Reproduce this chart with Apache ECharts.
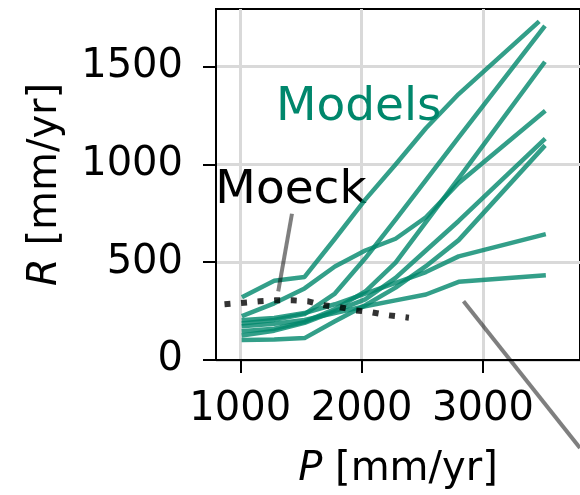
<!DOCTYPE html>
<html><head><meta charset="utf-8">
<script src="https://cdn.jsdelivr.net/npm/echarts@6/dist/echarts.min.js"></script>
<style>html,body{margin:0;padding:0;background:#fff}#c{width:580px;height:495px}</style>
</head><body><div id="c"></div>
<script>
// precipitation grid of model curves [mm/yr]
const precipGrid = [1030, 1280, 1530, 1780, 2030, 2280, 2530, 2800, 3500];
const precipGridTop = [1030, 1280, 1530, 1780, 2030, 2280, 2530, 2800, 3450];
// model recharge curves [mm/yr]
const model1 = [326, 405, 425, 620, 820, 1000, 1185, 1360, 1724];
const model2 = [188, 205, 235, 340, 520, 718, 920, 1139, 1700];
const model3 = [148, 160, 195, 260, 350, 498, 705, 929, 1516];
const model4 = [229, 290, 366, 478, 560, 620, 730, 905, 1267];
const model5 = [127, 150, 190, 250, 310, 420, 560, 711, 1124];
const model6 = [102, 105, 112, 198, 280, 370, 480, 613, 1089];
const model7 = [204, 215, 240, 285, 340, 395, 450, 530, 641];
const model8 = [173, 185, 205, 240, 275, 305, 335, 400, 432];
// Moeck curve
const moeckP = [870, 1160, 1290, 1430, 1560, 1690, 1820, 1950, 2085, 2215, 2390];
const moeckR = [285, 300, 305, 305, 300, 280, 270, 254, 244, 229, 216];
// annotation pointers
const moeckPointerP = [1426, 1313];
const moeckPointerR = [748, 351];
const modelsPointerP = [2840, 3800];
const modelsPointerR = [300, -450];
// annotation labels
const moeckLabel = {text: 'Moeck', p: 1418, r: 867};
const modelsLabel = {text: 'Models', p: 1976, r: 1289};
// ticks
const xTicks = [1000, 2000, 3000];
const yTicks = [0, 500, 1000, 1500];

const FONT = 'DejaVu Sans';
const teal = 'rgba(0,135,108,0.8)';
const zip = (xs, ys) => xs.map((x, i) => [x, ys[i]]);

const models = [model1, model2, model3, model4, model5, model6, model7, model8];
const series = models.map((m, i) => ({
  type: 'line', data: zip(i === 0 ? precipGridTop : precipGrid, m),
  showSymbol: false, symbol: 'none', silent: true,
  lineStyle: {color: teal, width: 4.5, cap: 'square', join: 'round', opacity: 1}
}));
series.push({
  type: 'line', data: zip(moeckPointerP, moeckPointerR), symbol: 'none', clip: false, silent: true,
  lineStyle: {color: 'rgba(0,0,0,0.5)', width: 4, cap: 'butt'}
});
series.push({
  type: 'line', data: zip(modelsPointerP, modelsPointerR), symbol: 'none', clip: false, silent: true,
  lineStyle: {color: 'rgba(0,0,0,0.5)', width: 4, cap: 'butt'}
});
series.push({
  type: 'line', data: zip(moeckP, moeckR), symbol: 'none', silent: true,
  lineStyle: {color: 'rgba(0,0,0,0.8)', width: 6, type: [6, 10.6], cap: 'butt'}
});
series.push({
  type: 'scatter', symbolSize: 0, silent: true, itemStyle: {opacity: 1},
  data: [[moeckLabel.p, moeckLabel.r, moeckLabel.text]],
  label: {show: true, position: 'inside', formatter: p => p.data[2], opacity: 1,
    fontFamily: FONT, fontSize: 47, color: '#000'}
});
series.push({
  type: 'scatter', symbolSize: 0, silent: true, itemStyle: {opacity: 1},
  data: [[modelsLabel.p, modelsLabel.r, modelsLabel.text]],
  label: {show: true, position: 'inside', formatter: p => p.data[2], opacity: 1,
    fontFamily: FONT, fontSize: 47, color: '#00876c'}
});

const chart = echarts.init(document.getElementById('c'), null, {renderer: 'canvas'});
chart.setOption({
  animation: false,
  backgroundColor: '#fff',
  grid: {left: 216, top: 9, right: -10, bottom: 133, show: true, borderColor: '#000', borderWidth: 2, backgroundColor: 'transparent'},
  xAxis: {
    type: 'value', min: 800, max: 3800,
    name: '{i|P} [mm/yr]', nameLocation: 'middle', nameGap: 90,
    nameTextStyle: {fontFamily: FONT, fontSize: 40, color: '#000',
      rich: {i: {fontFamily: FONT, fontStyle: 'italic', fontSize: 40, color: '#000'}}},
    axisLine: {show: true, onZero: false, lineStyle: {color: '#000', width: 2}},
    axisTick: {show: true, length: 13, customValues: xTicks, lineStyle: {color: '#000', width: 2}},
    axisLabel: {customValues: xTicks, margin: 30, fontFamily: FONT, fontSize: 40, color: '#000',
      formatter: v => String(v)},
    splitLine: {show: true, lineStyle: {color: '#d9d9d9', width: 3}}
  },
  yAxis: {
    type: 'value', min: 0, max: 1795,
    name: '{i|R} [mm/yr]', nameLocation: 'middle', nameGap: 150, nameRotate: 90,
    nameTextStyle: {fontFamily: FONT, fontSize: 40, color: '#000',
      rich: {i: {fontFamily: FONT, fontStyle: 'italic', fontSize: 40, color: '#000'}}},
    axisLine: {show: true, onZero: false, lineStyle: {color: '#000', width: 2}},
    axisTick: {show: true, length: 13, customValues: yTicks, lineStyle: {color: '#000', width: 2}},
    axisLabel: {customValues: yTicks, margin: 33, fontFamily: FONT, fontSize: 40, color: '#000',
      formatter: v => String(v)},
    splitLine: {show: true, lineStyle: {color: '#d9d9d9', width: 3}}
  },
  series: series
});
</script></body></html>
